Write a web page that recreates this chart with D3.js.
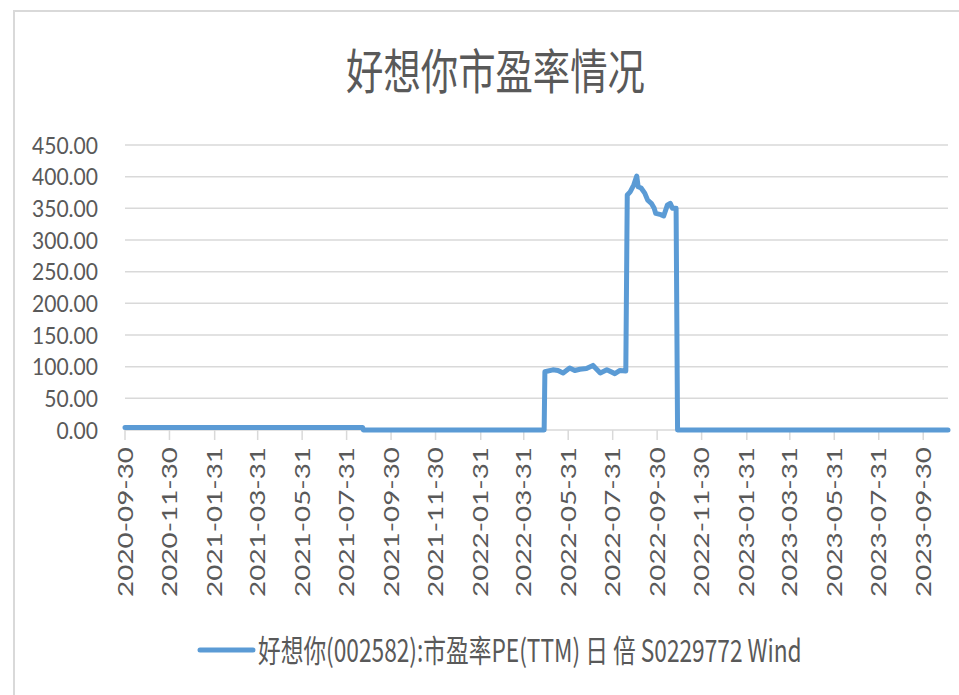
<!DOCTYPE html>
<html>
<head>
<meta charset="utf-8">
<script src="https://cdn.jsdelivr.net/npm/d3@7"></script>
<style>
  body { margin: 0; background: #fff; }
  svg { display: block; }
</style>
</head>
<body>
<div class="chart-container"></div>
<script>
// chart text
const chartTitle = '好想你市盈率情况'
const seriesName = '好想你(002582):市盈率PE(TTM) 日 倍 S0229772 Wind'

// PE(TTM) series
const dates = [
  '2020-09-30', '2021-08-22', '2021-08-23', '2022-04-28', '2022-04-29',
  '2022-05-10', '2022-05-17', '2022-05-24', '2022-06-02', '2022-06-09',
  '2022-06-16', '2022-06-25', '2022-07-04', '2022-07-09', '2022-07-14',
  '2022-07-23', '2022-08-03', '2022-08-10', '2022-08-18', '2022-08-20',
  '2022-08-24', '2022-08-29', '2022-09-02', '2022-09-04', '2022-09-08',
  '2022-09-13', '2022-09-17', '2022-09-22', '2022-09-26', '2022-09-28',
  '2022-10-05', '2022-10-09', '2022-10-14', '2022-10-18', '2022-10-21',
  '2022-10-26', '2022-10-28', '2023-11-03'
]
const peValues = [
  4, 4, 0, 0, 92,
  95, 94, 90, 98, 94,
  96, 97, 102, 96, 90,
  95, 89, 94, 93, 371,
  376, 387, 401, 384, 382,
  374, 363, 358, 350, 342,
  340, 338, 355, 358, 350,
  350, 0, 0
]

const yTicks = [0, 50, 100, 150, 200, 250, 300, 350, 400, 450]
const xTickLabels = [
  '2020-09-30', '2020-11-30', '2021-01-31', '2021-03-31', '2021-05-31',
  '2021-07-31', '2021-09-30', '2021-11-30', '2022-01-31', '2022-03-31',
  '2022-05-31', '2022-07-31', '2022-09-30', '2022-11-30', '2023-01-31',
  '2023-03-31', '2023-05-31', '2023-07-31', '2023-09-30'
]

const width = 959
const height = 695
const font = '"Noto Sans CJK SC", "Noto Sans", sans-serif'
const axisFont = 'Lato, "Noto Sans", sans-serif'
const textColor = '#595959'
const gridColor = '#d9d9d9'
const lineColor = '#5b9bd5'

const parse = d3.timeParse('%Y-%m-%d')
const data = dates.map((d, i) => ({ date: parse(d), value: peValues[i] }))

let x = d3.scaleTime()
.domain([parse('2020-09-30'), parse('2023-11-03')])
.range([125, 948])

let y = d3.scaleLinear()
.domain([0, 450])
.range([430, 145])

const svg = d3.select('.chart-container')
.append('svg')
.attr('width', width)
.attr('height', height)

// chart frame
svg.append('rect')
.attr('x', 14)
.attr('y', 11)
.attr('width', 1000)
.attr('height', 1000)
.attr('fill', 'none')
.attr('stroke', gridColor)
.attr('stroke-width', 2)

// gridlines
svg.append('g')
.selectAll('line')
.data(yTicks)
.enter()
.append('line')
.attr('x1', x.range()[0])
.attr('x2', x.range()[1])
.attr('y1', d => y(d))
.attr('y2', d => y(d))
.attr('stroke', gridColor)
.attr('stroke-width', 1.5)

// x tick marks
svg.append('g')
.selectAll('line')
.data(xTickLabels)
.enter()
.append('line')
.attr('x1', d => x(parse(d)))
.attr('x2', d => x(parse(d)))
.attr('y1', y(0))
.attr('y2', y(0) + 10)
.attr('stroke', gridColor)
.attr('stroke-width', 1.5)

// the series
const line = d3.line()
.x(d => x(d.date))
.y(d => y(d.value))

svg.append('path')
.datum(data)
.attr('d', line)
.attr('fill', 'none')
.attr('stroke', lineColor)
.attr('stroke-width', 5)
.attr('stroke-linejoin', 'round')
.attr('stroke-linecap', 'round')

// y labels, squeezed to the width they have in the picture
const yLabels = svg.append('g')
.selectAll('text')
.data(yTicks)
.enter()
.append('text')
.text(d => d.toFixed(2))
.attr('font-family', axisFont)
.attr('font-size', 24)
.attr('fill', textColor)
.attr('text-anchor', 'end')
.attr('dy', '0.36em')

let yScaleX = 66 / yLabels.filter(d => d === 450).node().getComputedTextLength()
yLabels.attr('transform', d => `translate(98,${y(d)}) scale(${yScaleX},1)`)

// x labels, rotated
const xLabels = svg.append('g')
.selectAll('text')
.data(xTickLabels)
.enter()
.append('text')
.text(d => d)
.attr('font-family', axisFont)
.attr('font-size', 21)
.attr('fill', textColor)
.attr('text-anchor', 'end')
.attr('dy', '0.36em')

let xStretch = 150 / xLabels.node().getComputedTextLength()
xLabels.attr('transform', d => `translate(${x(parse(d))},447) scale(1,${xStretch}) rotate(-90)`)

// title
const titleEl = svg.append('text')
.text(chartTitle)
.attr('font-family', font)
.attr('font-size', 48)
.attr('fill', textColor)
.attr('text-anchor', 'middle')

let titleScale = 299 / titleEl.node().getComputedTextLength()
titleEl.attr('transform', `translate(495.5,89) scale(${titleScale},1)`)

// legend
svg.append('line')
.attr('x1', 200)
.attr('x2', 253)
.attr('y1', 650)
.attr('y2', 650)
.attr('stroke', lineColor)
.attr('stroke-width', 5)
.attr('stroke-linecap', 'round')

const legendEl = svg.append('text')
.text(seriesName)
.attr('font-family', font)
.attr('font-size', 31)
.attr('fill', textColor)

let legendScale = 544 / legendEl.node().getComputedTextLength()
legendEl.attr('transform', `translate(258,662) scale(${legendScale},1)`)
</script>
</body>
</html>
